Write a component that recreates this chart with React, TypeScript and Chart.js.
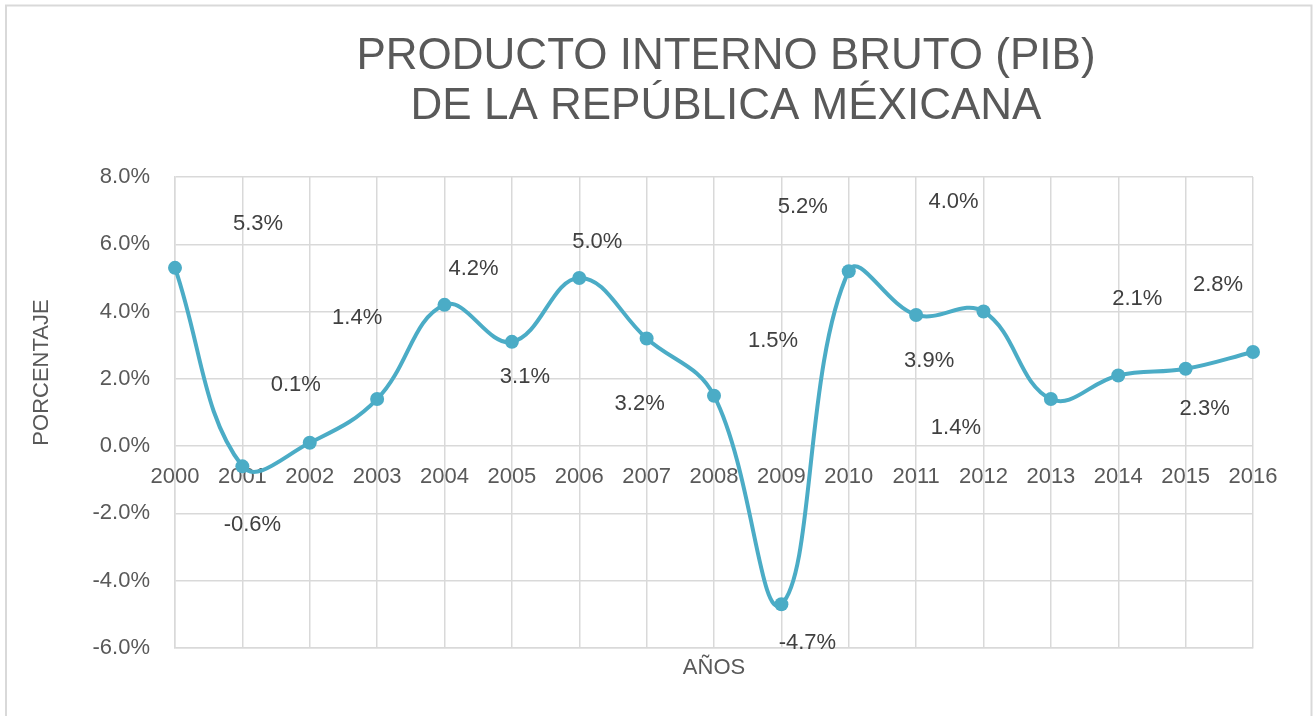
import React, { useEffect, useRef } from "react";
import { Chart, registerables } from "chart.js";

Chart.register(...registerables);

// ---- data ----
const years: string[] = [
  "2000", "2001", "2002", "2003", "2004", "2005", "2006", "2007", "2008",
  "2009", "2010", "2011", "2012", "2013", "2014", "2015", "2016",
];
const pibValues: number[] = [
  5.3, -0.6, 0.1, 1.4, 4.2, 3.1, 5.0, 3.2, 1.5, -4.7, 5.2, 3.9, 4.0, 1.4, 2.1, 2.3, 2.8,
];
const yMin = -6;
const yMax = 8;
const yStep = 2;
const titleLines: string[] = ["PRODUCTO INTERNO BRUTO (PIB)", "DE LA REPÚBLICA MÉXICANA"];
const yAxisTitle = "PORCENTAJE";
const xAxisTitle = "AÑOS";

// data-label offsets (px) from each point, as placed in the original
const labelDx: number[] = [83, 10, -14, -20, 29, 13, 18, -7, 59, 26, -46, 13, -30, -95, 19, 19, -35];
const labelDy: number[] = [-44, 59, -58, -81, -36, 35, -36, 65, -55, 39, -64, 46, -110, 29, -77, 40, -67];

const FONT = "'Liberation Sans', Arial, sans-serif";
const LINE_COLOR = "#4BACC6";
const GRID_COLOR = "#d9d9d9";
const TEXT_COLOR = "#595959";

const fmt = (v: number) => v.toFixed(1) + "%";

const extrasPlugin = {
  id: "extras",
  afterLayout(chart: any) {
    // the original title is centred over the plot area shifted right
    const tb = chart.titleBlock;
    if (tb) {
      tb.left = chart.chartArea.left + 24;
      tb.right = chart.chartArea.right;
    }
  },
  beforeDraw(chart: any) {
    const ctx = chart.ctx;
    ctx.save();
    ctx.fillStyle = "#ffffff";
    ctx.fillRect(0, 0, chart.width, chart.height);
    ctx.strokeStyle = GRID_COLOR;
    ctx.lineWidth = 2;
    ctx.strokeRect(6, 5.5, chart.width - 7.5, chart.height + 40);
    ctx.restore();
  },
  afterDraw(chart: any) {
    const ctx = chart.ctx;
    const area = chart.chartArea;
    // y axis title
    ctx.save();
    ctx.fillStyle = TEXT_COLOR;
    ctx.font = `22px ${FONT}`;
    ctx.textAlign = "center";
    ctx.textBaseline = "middle";
    ctx.translate(area.left - 133, (area.top + area.bottom) / 2 - 40);
    ctx.rotate(-Math.PI / 2);
    ctx.fillText(yAxisTitle, 0, 0);
    ctx.restore();
  },
  afterDatasetsDraw(chart: any) {
    const ctx = chart.ctx;
    const meta = chart.getDatasetMeta(0);
    ctx.save();
    ctx.fillStyle = "#404040";
    ctx.font = `22px ${FONT}`;
    ctx.textAlign = "center";
    ctx.textBaseline = "middle";
    meta.data.forEach((pt: any, i: number) => {
      ctx.fillText(fmt(pibValues[i]), pt.x + labelDx[i], pt.y + labelDy[i]);
    });
    ctx.restore();
  },
};

export default function App() {
  const canvasRef = useRef<HTMLCanvasElement | null>(null);

  useEffect(() => {
    if (!canvasRef.current) return;
    const chart = new Chart(canvasRef.current, {
      type: "line",
      data: {
        labels: years,
        datasets: [
          {
            label: "PIB",
            data: pibValues,
            borderColor: LINE_COLOR,
            backgroundColor: LINE_COLOR,
            borderWidth: 4,
            pointRadius: 7,
            pointBorderWidth: 0,
            pointBackgroundColor: LINE_COLOR,
            tension: 0.4,
            fill: false,
            xAxisID: "x",
            yAxisID: "y",
          },
        ],
      },
      options: {
        animation: false,
        responsive: true,
        maintainAspectRatio: false,
        layout: { padding: { left: 0, right: 60, top: 0, bottom: 0 } },
        plugins: {
          legend: { display: false },
          tooltip: { enabled: false },
          title: {
            display: true,
            text: titleLines,
            color: TEXT_COLOR,
            font: { family: FONT, size: 44, weight: "normal", lineHeight: 50 / 44 },
            padding: { top: 32, bottom: 45 },
          },
        },
        scales: {
          x: {
            type: "category",
            position: "bottom",
            offset: false,
            grid: { color: GRID_COLOR, lineWidth: 1.5, drawTicks: false },
            border: { color: GRID_COLOR, width: 1.5 },
            ticks: { display: false },
            title: {
              display: true,
              text: xAxisTitle,
              color: TEXT_COLOR,
              font: { family: FONT, size: 22 },
              padding: { top: 0, bottom: 35 },
            },
            afterFit: (scale: any) => {
              scale.height = 68;
            },
          },
          xZero: {
            type: "category",
            labels: years,
            position: { y: 0 } as any,
            offset: false,
            grid: { display: false, drawTicks: false },
            border: { display: false },
            ticks: {
              color: TEXT_COLOR,
              font: { family: FONT, size: 22 },
              autoSkip: false,
              maxRotation: 0,
              padding: 18,
            },
          },
          y: {
            type: "linear",
            position: "left",
            min: yMin,
            max: yMax,
            grid: { color: GRID_COLOR, lineWidth: 1.5, drawTicks: false },
            border: { color: GRID_COLOR, width: 1.5 },
            ticks: {
              stepSize: yStep,
              color: TEXT_COLOR,
              font: { family: FONT, size: 22 },
              padding: 25,
              callback: (v: any) => fmt(Number(v)),
            },
            afterFit: (scale: any) => {
              scale.width = 175;
            },
          },
        },
      } as any,
      plugins: [extrasPlugin],
    });
    return () => chart.destroy();
  }, []);

  return (
    <div style={{ position: "fixed", left: 0, top: 0, width: 1313, height: 716 }}>
      <canvas ref={canvasRef} />
    </div>
  );
}
